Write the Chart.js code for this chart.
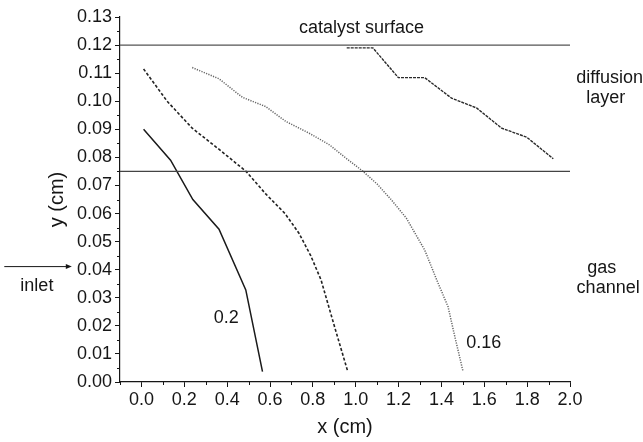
<!DOCTYPE html>
<html>
<head>
<meta charset="utf-8">
<style>
  html, body { margin: 0; padding: 0; background: #fff; }
  #wrap { width: 643px; height: 442px; }
</style>
<script src="https://cdn.jsdelivr.net/npm/chart.js@4.4.1/dist/chart.umd.min.js"></script>
</head>
<body>
<div id="wrap"><canvas id="myChart" width="643" height="442"></canvas></div>
<script>
// tick labels
const xTicks = [0.0, 0.2, 0.4, 0.6, 0.8, 1.0, 1.2, 1.4, 1.6, 1.8, 2.0];
const yTicks = [0.00, 0.01, 0.02, 0.03, 0.04, 0.05, 0.06, 0.07, 0.08, 0.09, 0.10, 0.11, 0.12, 0.13];
const xMinor = [-0.1, 0.1, 0.3, 0.5, 0.7, 0.9, 1.1, 1.3, 1.5, 1.7, 1.9];
const yMinor = [0.005, 0.015, 0.025, 0.035, 0.045, 0.055, 0.065, 0.075, 0.085, 0.095, 0.105, 0.115, 0.125];

// boundaries (catalyst surface, diffusion layer / gas channel)
const boundaryX = [-0.1, 2.0];
const surfaceY = 0.12;
const interfaceY = 0.075;

// curve "0.2" (solid)
const solidX = [0.01, 0.136, 0.24, 0.362, 0.487, 0.565];
const solidY = [0.090, 0.079, 0.065, 0.0544, 0.0328, 0.0037];

// dashed curve
const dashX = [0.01, 0.12, 0.237, 0.36, 0.487, 0.58, 0.67, 0.735, 0.79, 0.838, 0.9, 0.963];
const dashY = [0.1115, 0.100, 0.0904, 0.083, 0.0751, 0.067, 0.060, 0.053, 0.045, 0.0364, 0.020, 0.0037];

// curve "0.16" (dotted)
const dotX = [0.237, 0.362, 0.471, 0.58, 0.674, 0.783, 0.877, 0.95, 1.033, 1.1, 1.166, 1.236, 1.322, 1.38, 1.431, 1.46, 1.501];
const dotY = [0.112, 0.108, 0.1014, 0.0981, 0.0928, 0.0886, 0.0845, 0.080, 0.0751, 0.0705, 0.0649, 0.0584, 0.047, 0.036, 0.0268, 0.017, 0.0037];

// upper curve in diffusion layer
const topX = [0.958, 1.08, 1.199, 1.322, 1.447, 1.564, 1.681, 1.798, 1.922];
const topY = [0.119, 0.119, 0.1084, 0.1084, 0.1011, 0.0976, 0.0904, 0.0872, 0.0795];

// text notes, in data units
const notes = [
    { text: "catalyst surface", x: 1.027, y: 0.1262, align: "center" },
    { text: "diffusion", x: 2.185, y: 0.1084, align: "center" },
    { text: "layer", x: 2.167, y: 0.1012, align: "center" },
    { text: "gas", x: 2.148, y: 0.0406, align: "center" },
    { text: "channel", x: 2.178, y: 0.0335, align: "center" },
    { text: "0.16", x: 1.516, y: 0.0139, align: "left" },
    { text: "0.2", x: 0.338, y: 0.0228, align: "left" },
    { text: "inlet", x: -0.565, y: 0.0342, align: "left" }
];
const inletArrow = { x0: -0.64, x1: -0.325, y: 0.0411 };

const FONT = "'Liberation Sans', Arial, sans-serif";
const INK = "#161616";

function pts(xs, ys) {
    return xs.map((x, i) => ({ x: x, y: ys[i] }));
}

function line(data, color, width, dash) {
    return {
        data: data,
        showLine: true,
        borderColor: color,
        borderWidth: width,
        borderDash: dash,
        pointRadius: 0,
        tension: 0,
        fill: false
    };
}

const extras = {
    id: "extras",
    afterDraw(chart) {
        const c = chart.ctx;
        const xs = chart.scales.x, ys = chart.scales.y;
        c.save();
        // minor ticks
        c.strokeStyle = INK;
        c.lineWidth = 1;
        c.beginPath();
        xMinor.forEach(v => {
            const px = Math.round(xs.getPixelForValue(v)) + 0.5;
            c.moveTo(px, ys.bottom);
            c.lineTo(px, ys.bottom + 3);
        });
        yMinor.forEach(v => {
            const py = Math.round(ys.getPixelForValue(v)) + 0.5;
            c.moveTo(xs.left, py);
            c.lineTo(xs.left - 3, py);
        });
        c.stroke();

        // notes
        c.fillStyle = INK;
        c.font = "18px " + FONT;
        c.textBaseline = "middle";
        notes.forEach(n => {
            c.textAlign = n.align;
            c.fillText(n.text, xs.getPixelForValue(n.x), ys.getPixelForValue(n.y));
        });

        // inlet arrow
        const ax0 = xs.getPixelForValue(inletArrow.x0);
        const ax1 = xs.getPixelForValue(inletArrow.x1);
        const ay = ys.getPixelForValue(inletArrow.y);
        c.strokeStyle = INK;
        c.lineWidth = 1;
        c.beginPath();
        c.moveTo(ax0, ay);
        c.lineTo(ax1 - 4, ay);
        c.stroke();
        c.beginPath();
        c.moveTo(ax1, ay);
        c.lineTo(ax1 - 6, ay - 2.5);
        c.lineTo(ax1 - 6, ay + 2.5);
        c.closePath();
        c.fill();
        c.restore();
    }
};

let ctx = document.getElementById("myChart").getContext("2d");
let chart = new Chart(ctx, {
    type: "scatter",
    data: {
        datasets: [
            line(pts(boundaryX, [surfaceY, surfaceY]), "#555", 1.2, []),
            line(pts(boundaryX, [interfaceY, interfaceY]), "#444", 1.2, []),
            line(pts(solidX, solidY), "#1a1a1a", 1.5, []),
            line(pts(dashX, dashY), "#222", 1.6, [3, 2]),
            line(pts(dotX, dotY), "#666", 1.5, [1.2, 1.3]),
            line(pts(topX, topY), "#2a2a2a", 1.4, [3, 1])
        ]
    },
    options: {
        responsive: false,
        animation: false,
        layout: { padding: { left: 44, right: 73, top: 17, bottom: 0 } },
        plugins: {
            legend: { display: false },
            tooltip: { enabled: false },
            title: { display: false }
        },
        scales: {
            x: {
                type: "linear",
                min: -0.1,
                max: 2.0,
                afterBuildTicks: s => { s.ticks = xTicks.map(v => ({ value: v })); },
                afterFit: s => { s.height = 60; },
                ticks: {
                    color: INK,
                    font: { family: FONT, size: 18 },
                    padding: 2,
                    maxRotation: 0,
                    autoSkip: false,
                    callback: v => Number(v).toFixed(1)
                },
                grid: {
                    drawOnChartArea: false,
                    drawTicks: true,
                    tickLength: 5,
                    tickColor: INK,
                    tickWidth: 1
                },
                border: { display: true, color: INK, width: 1.2 },
                title: {
                    display: true,
                    text: "x (cm)",
                    color: INK,
                    font: { family: FONT, size: 20 },
                    padding: { top: 2, bottom: 3 }
                }
            },
            y: {
                type: "linear",
                min: 0,
                max: 0.13,
                afterBuildTicks: s => { s.ticks = yTicks.map(v => ({ value: v })); },
                afterFit: s => { s.width = 76; },
                ticks: {
                    color: INK,
                    font: { family: FONT, size: 18 },
                    padding: 3,
                    autoSkip: false,
                    callback: v => Number(v).toFixed(2)
                },
                grid: {
                    drawOnChartArea: false,
                    drawTicks: true,
                    tickLength: 5,
                    tickColor: INK,
                    tickWidth: 1
                },
                border: { display: true, color: INK, width: 1.2 },
                title: {
                    display: true,
                    text: "y (cm)",
                    color: INK,
                    font: { family: FONT, size: 20 },
                    padding: { top: 1, bottom: 2 }
                }
            }
        }
    },
    plugins: [extras]
});
</script>
</body>
</html>
